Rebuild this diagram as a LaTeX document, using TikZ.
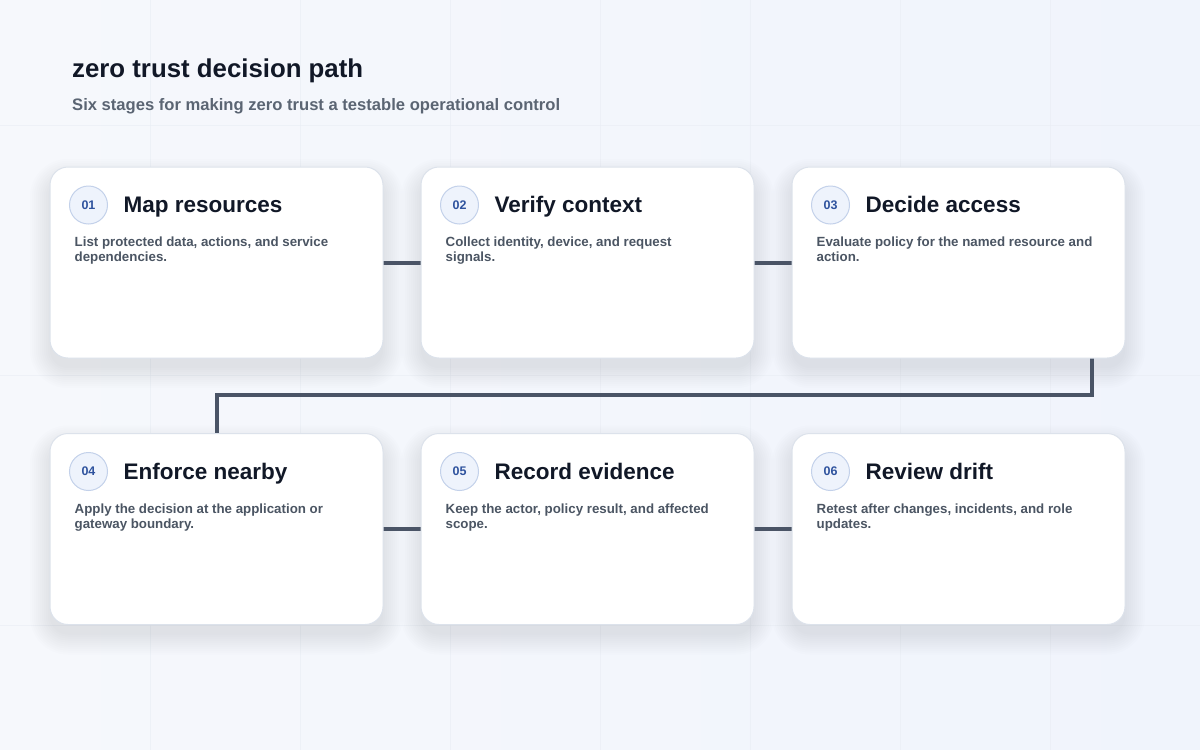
\documentclass[tikz,border=0pt]{standalone}
\usepackage{fontspec}
\setmainfont{Liberation Sans}
\usetikzlibrary{calc}
\definecolor{bgA}{HTML}{F6F8FC}
\definecolor{bgB}{HTML}{F0F4FC}
\definecolor{gridc}{HTML}{E9EDF4}
\definecolor{cardline}{HTML}{DCE2EB}
\definecolor{titlec}{HTML}{111827}
\definecolor{subc}{HTML}{5B6573}
\definecolor{descc}{HTML}{4B5563}
\definecolor{linkc}{HTML}{4A5466}
\definecolor{badgefill}{HTML}{EEF3FC}
\definecolor{badgeline}{HTML}{C3D1EA}
\definecolor{badgetext}{HTML}{2F539E}
\definecolor{shadowc}{HTML}{64748B}
\tikzset{
  card/.style={draw=cardline, line width=1pt, fill=white, rounded corners=18pt,
    minimum width=333pt, minimum height=191pt, inner sep=0pt},
  badge/.style={circle, draw=badgeline, line width=1pt, fill=badgefill, minimum size=38pt, inner sep=0pt,
    text=badgetext, font=\fontsize{12.5}{12.5}\selectfont\bfseries},
  ctitle/.style={anchor=base west, inner sep=0pt, text=titlec, font=\fontsize{22.5}{22.5}\selectfont\bfseries},
  cdesc/.style={anchor=north west, inner sep=0pt, align=left, text=descc, font=\fontsize{13.3}{15}\selectfont\bfseries},
  link/.style={draw=linkc, line width=4pt},
  shadowlayer/.style={fill=shadowc, opacity=0.012},
}
\begin{document}
\begin{tikzpicture}[x=1pt,y=-1pt]
\useasboundingbox (0,0) rectangle (1200,750);
\shade[left color=bgA, right color=bgB] (0,0) rectangle (1200,750);
\foreach \gx in {150,300,...,1050} \draw[gridc, line width=1pt, opacity=0.6] (\gx,0) -- (\gx,750);
\foreach \gy in {125,375,625} \draw[gridc, line width=1pt, opacity=0.6] (0,\gy) -- (1200,\gy);

\node[anchor=base west, inner sep=0pt, text=titlec, font=\fontsize{25.8}{25.8}\selectfont\bfseries] (title) at (72,77) {zero trust decision path};
\node[anchor=base west, inner sep=0pt, text=subc, font=\fontsize{16.6}{16.6}\selectfont\bfseries] (subtitle) at (72,110) {Six stages for making zero trust a testable operational control};

% soft shadows
\foreach \cx/\cy in {216.5/262.5, 587.5/262.5, 958.5/262.5, 216.5/529, 587.5/529, 958.5/529}{
  \foreach \k in {0,2,...,20}{
    \fill[shadowlayer, rounded corners={18+\k}] ({\cx-166.5-\k},{\cy-95.5+12-\k}) rectangle ({\cx+166.5+\k},{\cy+95.5+10+\k});
  }
}

% connectors (behind cards)
\coordinate (c1e) at (383,262.5);
\coordinate (c2w) at (421,262.5);
\coordinate (c2e) at (754,262.5);
\coordinate (c3w) at (792,262.5);
\coordinate (c3s) at (1091.5,358);
\coordinate (c4n) at (216.5,433);
\coordinate (c4e) at (383,529);
\coordinate (c5w) at (421,529);
\coordinate (c5e) at (754,529);
\coordinate (c6w) at (792,529);
\draw[link] (c1e) -- (c2w);
\draw[link] (c2e) -- (c3w);
\draw[link] (c3s) |- (216.5,395) -- (c4n);
\draw[link] (c4e) -- (c5w);
\draw[link] (c5e) -- (c6w);

% cards
\foreach \n/\cx/\cy/\num/\ttl/\dsc in {
  c1/216.5/262.5/01/Map resources/{List protected data, actions, and service\\dependencies.},
  c2/587.5/262.5/02/Verify context/{Collect identity, device, and request\\signals.},
  c3/958.5/262.5/03/Decide access/{Evaluate policy for the named resource and\\action.},
  c4/216.5/529/04/Enforce nearby/{Apply the decision at the application or\\gateway boundary.},
  c5/587.5/529/05/Record evidence/{Keep the actor, policy result, and affected\\scope.},
  c6/958.5/529/06/Review drift/{Retest after changes, incidents, and role\\updates.}}{
  \node[card] (\n) at (\cx,\cy) {};
  \node[badge] (\n b) at ($(\n.north west)+(39,38.5)$) {\num};
  \node[ctitle] (\n t) at ($(\n.north west)+(74,46)$) {\ttl};
  \node[cdesc] (\n d) at ($(\n.north west)+(25,70.5)$) {\dsc};
}
\end{tikzpicture}
\end{document}
